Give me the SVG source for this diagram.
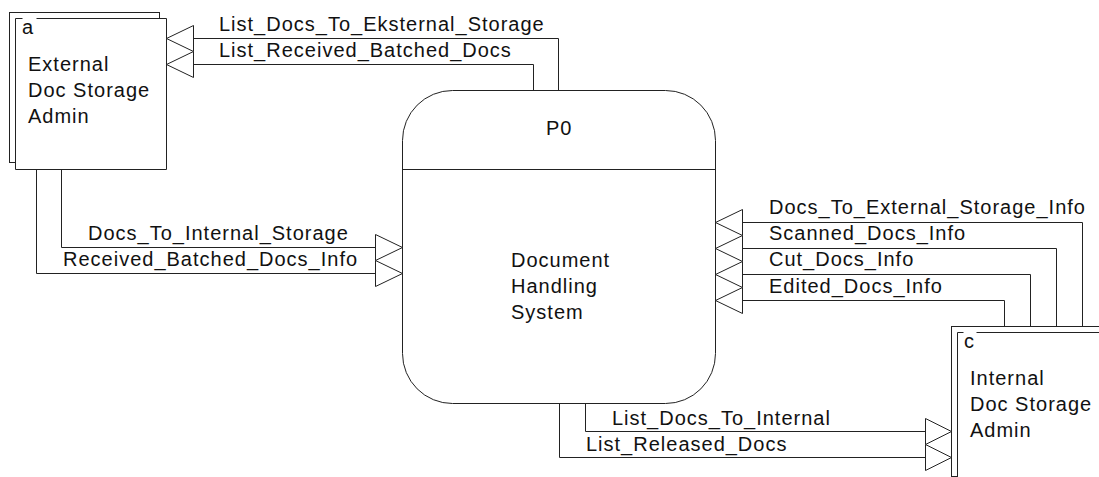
<svg xmlns="http://www.w3.org/2000/svg" width="1099" height="477" viewBox="0 0 1099 477">
  <defs>
    <style>
      .ln { fill: none; stroke: #222; stroke-width: 1; }
      .box { fill: #fff; stroke: #222; stroke-width: 1; }
      .fill { fill: #fff; stroke: none; }
      .arr { fill: #fff; stroke: #222; stroke-width: 1; stroke-linejoin: miter; }
      text { font-family: "Liberation Sans", Arial, sans-serif; font-size: 20px; letter-spacing: 1px; fill: #111; }
    </style>
  </defs>
  <rect width="1099" height="477" fill="#fff"/>

  <!-- External entity a -->
  <g id="entity-a">
    <rect class="box" x="9.5" y="12.5" width="150" height="150"/>
    <rect class="fill" x="15.5" y="18.5" width="151" height="151"/>
    <path class="ln" d="M22.5,18.5 H15.5 V169.5 H166.5 V18.5 H36.5"/>
    <text x="22" y="34">a</text>
    <text x="28" y="71">External</text>
    <text x="28" y="97">Doc Storage</text>
    <text x="28" y="123">Admin</text>
  </g>

  <!-- Process P0 -->
  <g id="process-p0">
    <rect class="box" x="402.5" y="90.5" width="313" height="313" rx="50" ry="50"/>
    <line class="ln" x1="402.5" y1="169.5" x2="715.5" y2="169.5"/>
    <text x="546" y="135">P0</text>
    <text x="511" y="267">Document</text>
    <text x="511" y="293">Handling</text>
    <text x="511" y="319">System</text>
  </g>

  <!-- External entity c -->
  <g id="entity-c">
    <rect class="box" x="951.5" y="326.5" width="150" height="150"/>
    <rect class="fill" x="957.5" y="332.5" width="151" height="151"/>
    <path class="ln" d="M963.5,332.5 H957.5 V484 M976.5,332.5 H1100"/>
    <text x="964" y="348">c</text>
    <text x="970" y="385">Internal</text>
    <text x="970" y="411">Doc Storage</text>
    <text x="970" y="437">Admin</text>
  </g>

  <!-- Data flows -->
  <g id="connectors">
    <!-- P0 to entity a -->
    <path class="ln" d="M558.5,90.5 V38.5 H193.5"/>
    <polygon class="arr" points="193.5,25.5 166.5,38.5 193.5,51.5"/>
    <path class="ln" d="M533.5,90.5 V64.5 H193.5"/>
    <polygon class="arr" points="193.5,51.5 166.5,64.5 193.5,77.5"/>
    <text x="219" y="31">List_Docs_To_Eksternal_Storage</text>
    <text x="219" y="57">List_Received_Batched_Docs</text>

    <!-- entity a to P0 -->
    <path class="ln" d="M61.5,169.5 V247.5 H375.5"/>
    <polygon class="arr" points="375.5,234.5 402.5,247.5 375.5,260.5"/>
    <path class="ln" d="M36.5,169.5 V273.5 H375.5"/>
    <polygon class="arr" points="375.5,260.5 402.5,273.5 375.5,286.5"/>
    <text x="88" y="240">Docs_To_Internal_Storage</text>
    <text x="63" y="266">Received_Batched_Docs_Info</text>

    <!-- entity c to P0 -->
    <path class="ln" d="M1082.5,326.5 V222.5 H742.5"/>
    <polygon class="arr" points="742.5,209.5 715.5,222.5 742.5,235.5"/>
    <path class="ln" d="M1056.5,326.5 V248.5 H742.5"/>
    <polygon class="arr" points="742.5,235.5 715.5,248.5 742.5,261.5"/>
    <path class="ln" d="M1030.5,326.5 V274.5 H742.5"/>
    <polygon class="arr" points="742.5,261.5 715.5,274.5 742.5,287.5"/>
    <path class="ln" d="M1004.5,326.5 V300.5 H742.5"/>
    <polygon class="arr" points="742.5,287.5 715.5,300.5 742.5,313.5"/>
    <text x="769" y="214">Docs_To_External_Storage_Info</text>
    <text x="769" y="240">Scanned_Docs_Info</text>
    <text x="769" y="266">Cut_Docs_Info</text>
    <text x="769" y="293">Edited_Docs_Info</text>

    <!-- P0 to entity c -->
    <path class="ln" d="M585.5,403.5 V431.5 H925.5"/>
    <polygon class="arr" points="925.5,418.5 951.5,431.5 925.5,444.5"/>
    <path class="ln" d="M559.5,403.5 V457.5 H925.5"/>
    <polygon class="arr" points="925.5,444.5 951.5,457.5 925.5,470.5"/>
    <text x="612" y="425">List_Docs_To_Internal</text>
    <text x="586" y="451">List_Released_Docs</text>
  </g>
</svg>
